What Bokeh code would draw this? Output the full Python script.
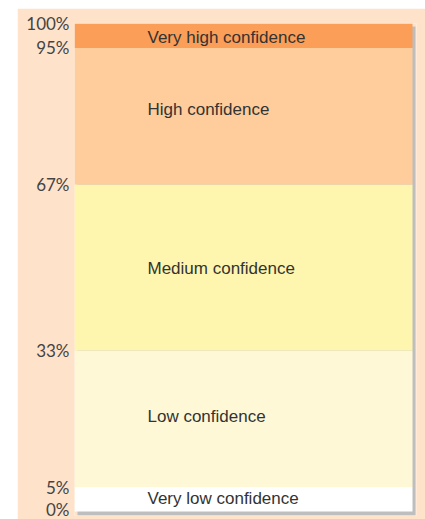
from bokeh.plotting import figure
from bokeh.embed import file_html
from bokeh.resources import INLINE
from bokeh.models import FixedTicker, Range1d
from bokeh.core.properties import value

# Data
categories = ["Very low confidence", "Low confidence", "Medium confidence",
              "High confidence", "Very high confidence"]
lower = [0, 5, 33, 67, 95]
upper = [5, 33, 67, 95, 100]
label_y = [2.6, 19.4, 49.8, 82.3, 97.2]
colors = ["#FFFFFF", "#FEF8D6", "#FEF6AE", "#FECD9B", "#FB9E57"]
tick_values = [0, 5, 33, 67, 95, 100]
tick_labels = ["0%", "5%", "33%", "67%", "95%", "100%"]

BG = "#FEE3CA"
W, H = 408, 511
left, right, top, bottom = 57, 9, 15, 4
frame_w = W - left - right   # 342
frame_h = H - top - bottom   # 492
bar_w_px = 338
shadow_dx, shadow_dy = 3, 4
px_per_unit_y = (frame_h - shadow_dy) / 100.0
x_end = frame_w / bar_w_px
y_start = -shadow_dy / px_per_unit_y

p = figure(width=W, height=H, output_backend="svg", toolbar_location=None,
           x_range=Range1d(0, x_end), y_range=Range1d(y_start, 100),
           min_border_left=left, min_border_right=right,
           min_border_top=top, min_border_bottom=bottom)
p.margin = (8, 0, 0, 17)
p.background_fill_color = BG
p.border_fill_color = BG
p.outline_line_color = None
p.xgrid.visible = False
p.ygrid.visible = False
p.xaxis.visible = False

# shadow
sx = shadow_dx / bar_w_px
sy = shadow_dy / px_per_unit_y
p.quad(left=[sx], right=[1 + sx], bottom=[min(lower) - sy], top=[max(upper) - 0.6],
       fill_color="#BEBEBE", line_color=None)

# bars
p.quad(left=[0] * len(lower), right=[1] * len(lower), bottom=lower, top=upper,
       fill_color=colors, line_color=None)

p.text(x=[0] * len(label_y), y=label_y, text=categories, x_offset=73,
       text_baseline="middle", text_align="left", text_color="#333333",
       text_font=value("Liberation Sans"), text_font_size="17px")

ax = p.yaxis[0]
ax.ticker = FixedTicker(ticks=tick_values)
ax.major_label_overrides = {v: l for v, l in zip(tick_values, tick_labels)}
ax.axis_line_color = None
ax.major_tick_line_color = None
ax.minor_tick_line_color = None
ax.major_tick_out = 0
ax.major_tick_in = 0
ax.major_label_standoff = 5
ax.major_label_text_font = "Lato"
ax.major_label_text_font_size = "17px"
ax.major_label_text_color = "#444444"

open("out.html", "w").write(file_html(p, INLINE))
